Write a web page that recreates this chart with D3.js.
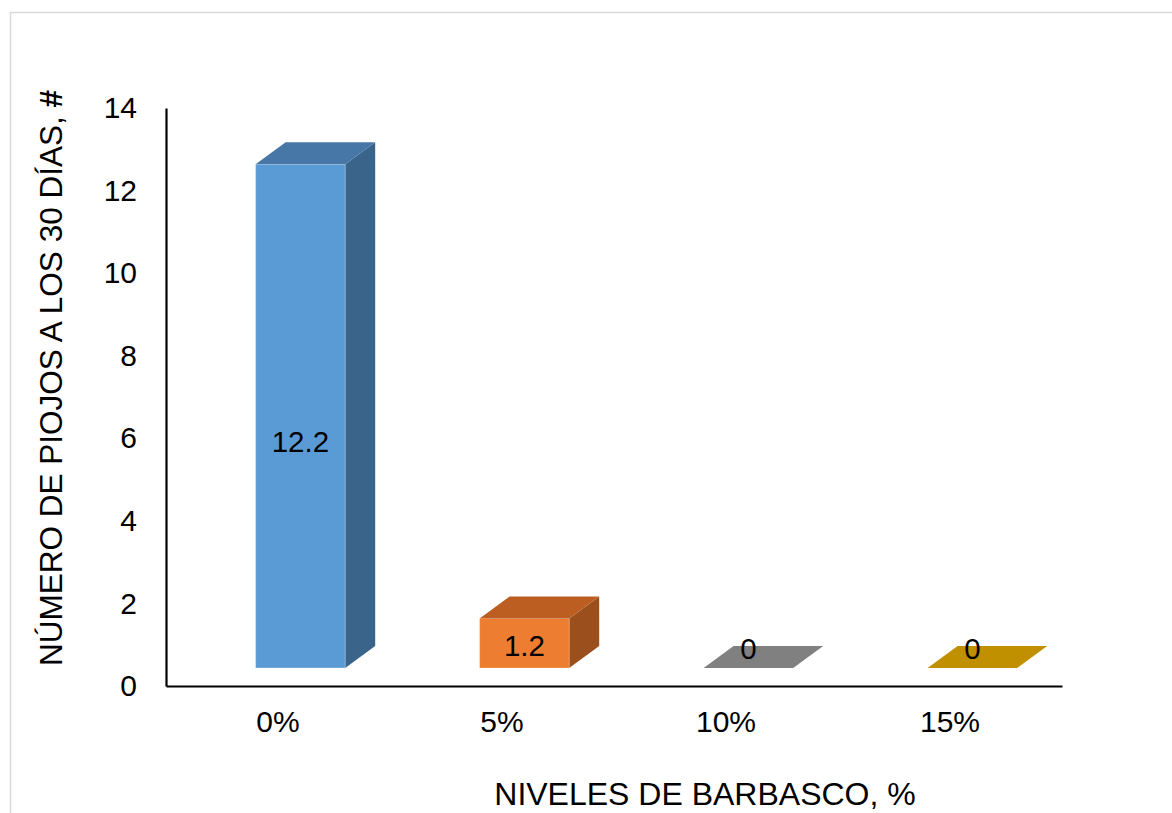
<!DOCTYPE html>
<html>
<head>
<meta charset="utf-8">
<script src="https://cdn.jsdelivr.net/npm/d3@7"></script>
<style>
  html, body { margin: 0; padding: 0; background: #ffffff; }
  svg { display: block; font-family: "Liberation Sans", Arial, sans-serif; }
</style>
</head>
<body>
<svg id="chart" width="1172" height="813"></svg>
<script>
// ---- data ----
const categories = ["0%", "5%", "10%", "15%"];
const values = [12.2, 1.2, 0, 0];
const valueLabels = ["12.2", "1.2", "0", "0"];
const yTicks = [0, 2, 4, 6, 8, 10, 12, 14];
const frontColors = ["#5B9BD5", "#ED7D31", "#8C8C8C", "#D9A000"];
const topColors = ["#4677A7", "#BC5E22", "#808080", "#C09000"];
const sideColors = ["#3A6489", "#9A4F1C", "#6A6A6A", "#9A7400"];
const yTitle = "NÚMERO DE PIOJOS A LOS 30 DÍAS, ";
const xTitle = "NIVELES DE BARBASCO, %";

// ---- layout ----
const svg = d3.select("#chart");
const plotLeft = 166, plotRight = 1062, plotTop = 108, plotBottom = 686;
const floorOffset = 18;   // front face base sits above axis line
const depthX = 30, depthY = -22;

// outer frame
svg.append("rect")
  .attr("x", 10.5).attr("y", 12.5)
  .attr("width", 1200).attr("height", 900)
  .attr("fill", "none").attr("stroke", "#d9d9d9").attr("stroke-width", 1.5);

const y = d3.scaleLinear().domain([0, 14]).range([plotBottom, plotTop]);
const x = d3.scaleBand().domain(categories).range([plotLeft, plotRight]).paddingInner(0).paddingOuter(0);
const barW = x.bandwidth() * 0.4;
const barOff = x.bandwidth() * 0.4;
const fy = v => y(v) - floorOffset;

const g = svg.append("g");
categories.forEach((c, i) => {
  const v = values[i];
  const x0 = x(c) + barOff, x1 = x0 + barW;
  const yt = fy(v), yb = fy(0);
  const bar = g.append("g");
  if (v > 0) {
    bar.append("path")
      .attr("d", `M${x1},${yt} L${x1 + depthX},${yt + depthY} L${x1 + depthX},${yb + depthY} L${x1},${yb} Z`)
      .attr("fill", sideColors[i]);
    bar.append("rect")
      .attr("x", x0).attr("y", yt).attr("width", barW).attr("height", yb - yt)
      .attr("fill", frontColors[i])
      .attr("stroke", "rgba(255,255,255,0.25)").attr("stroke-width", 1);
  }
  bar.append("path")
    .attr("d", `M${x0},${yt} L${x0 + depthX},${yt + depthY} L${x1 + depthX},${yt + depthY} L${x1},${yt} Z`)
    .attr("fill", topColors[i]);
});

// axes
const yAxis = d3.axisLeft(y).tickValues(yTicks).tickSize(0).tickSizeOuter(0).tickPadding(29);
const yg = svg.append("g").attr("transform", `translate(${plotLeft},0)`).call(yAxis);
yg.select(".domain").attr("stroke", "#000").attr("stroke-width", 2.2);
yg.selectAll("text").attr("font-size", 30).attr("fill", "#000")
  .attr("font-family", "'Liberation Sans', Arial, sans-serif");

const xAxis = d3.axisBottom(x).tickSize(0).tickSizeOuter(0).tickPadding(25);
const xg = svg.append("g").attr("transform", `translate(0,${plotBottom})`).call(xAxis);
xg.select(".domain").attr("stroke", "#000").attr("stroke-width", 2.2);
xg.selectAll("text").attr("font-size", 30).attr("fill", "#000")
  .attr("font-family", "'Liberation Sans', Arial, sans-serif");

// data labels
categories.forEach((c, i) => {
  const v = values[i];
  const cx = x(c) + barOff + barW / 2;
  const cy = Math.min(fy(v * 0.45), fy(0) - 20);
  svg.append("text")
    .attr("x", cx).attr("y", cy).attr("dy", "0.36em")
    .attr("text-anchor", "middle").attr("font-size", 29.5).attr("fill", "#000")
    .text(valueLabels[i]);
});

// axis titles
const yTitleEl = svg.append("text")
  .attr("transform", "translate(62,378) rotate(-90)")
  .attr("text-anchor", "middle").attr("font-size", 31.5).attr("fill", "#000");
yTitleEl.append("tspan").text(yTitle);
yTitleEl.append("tspan").attr("font-weight", "bold").text("#");

svg.append("text")
  .attr("x", 705).attr("y", 805)
  .attr("text-anchor", "middle").attr("font-size", 32).attr("fill", "#000")
  .text(xTitle);
</script>
</body>
</html>
